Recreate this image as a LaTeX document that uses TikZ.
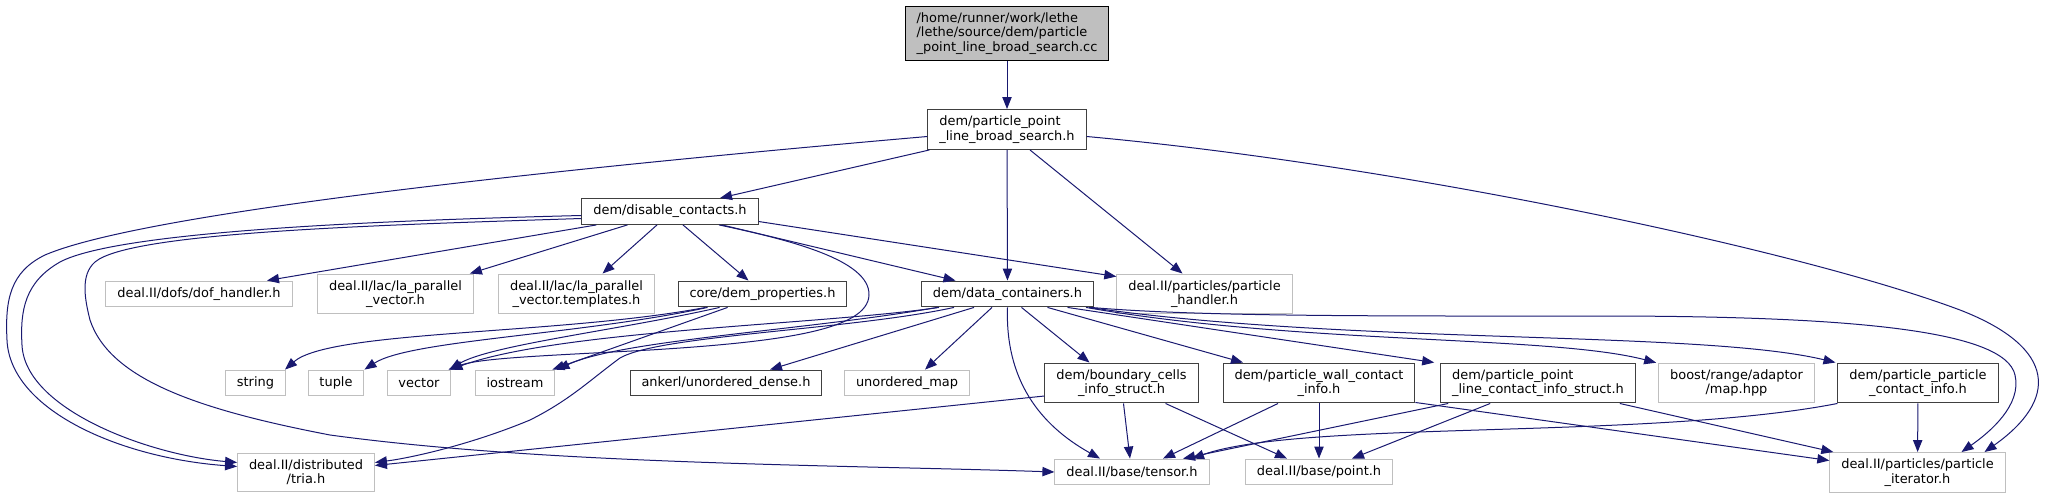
\documentclass[tikz,border=0pt]{standalone}
\usepackage{fontspec}
\setmainfont{DejaVu Sans}
\usetikzlibrary{arrows.meta,calc}
\definecolor{edgeblue}{HTML}{191970}
\definecolor{boxline}{HTML}{404040}
\definecolor{extline}{HTML}{BFBFBF}
\definecolor{rootfill}{HTML}{BFBFBF}

\begin{document}
\begin{tikzpicture}[
  x=0.75pt,
  y=-0.75pt,
  every node/.style={font=\fontsize{9.7}{10.7}\selectfont, inner xsep=8.6pt,
    inner ysep=4.8pt, minimum height=19.4pt, line width=0.75pt},
  srcfile/.style={draw=black, fill=rootfill, align=left},
  hdrfile/.style={draw=boxline, fill=white, align=center},
  extfile/.style={draw=extline, fill=white, align=center},
  incl/.style={edgeblue, line width=0.75pt, -{Triangle[length=9pt, width=7pt]}}
]
  % ---- frame: same size as the doxygen picture ---------------------------
  \useasboundingbox (0,0) rectangle (2046,499);

  % ---- files, row by row --------------------------------------------------
  \node[srcfile] (src) at (1007,33.5)
    {/home/runner/work/lethe\\/lethe/source/dem/particle\\\_point\_line\_broad\_search.cc};
  \node[hdrfile, align=left] (bsearch) at (1007,129.5)
    {dem/particle\_point\\\_line\_broad\_search.h};
  \node[hdrfile] (disable) at (670,211.5) {dem/disable\_contacts.h};

  \node[extfile] (dofh) at (199,294) {deal.II/dofs/dof\_handler.h};
  \node[extfile] (vech) at (395.5,294) {deal.II/lac/la\_parallel\\\_vector.h};
  \node[extfile] (vect) at (576.5,294)
    {deal.II/lac/la\_parallel\\\_vector.templates.h};
  \node[hdrfile] (demprop) at (762.5,294) {core/dem\_properties.h};
  \node[hdrfile] (datac) at (1007.5,294) {dem/data\_containers.h};
  \node[extfile] (phandler) at (1204.5,294)
    {deal.II/particles/particle\\\_handler.h};

  \node[extfile] (sstring) at (255.5,383) {string};
  \node[extfile] (stuple) at (336,383) {tuple};
  \node[extfile] (svector) at (419,383) {vector};
  \node[extfile] (siostream) at (515,383) {iostream};
  \node[hdrfile] (ankerl) at (726,383) {ankerl/unordered\_dense.h};
  \node[extfile] (umap) at (907,383) {unordered\_map};
  \node[hdrfile] (bcells) at (1121.5,383) {dem/boundary\_cells\\\_info\_struct.h};
  \node[hdrfile] (wallc) at (1319,383) {dem/particle\_wall\_contact\\\_info.h};
  \node[hdrfile, align=left] (plinec) at (1538,383)
    {dem/particle\_point\\\_line\_contact\_info\_struct.h};
  \node[extfile] (boostmap) at (1736.5,383) {boost/range/adaptor\\/map.hpp};
  \node[hdrfile] (ppc) at (1918,383) {dem/particle\_particle\\\_contact\_info.h};

  \node[extfile] (tria) at (306,472.5) {deal.II/distributed\\/tria.h};
  \node[extfile] (tensor) at (1132,472) {deal.II/base/tensor.h};
  \node[extfile] (point) at (1319,472) {deal.II/base/point.h};
  \node[extfile] (piter) at (1917.5,472.5)
    {deal.II/particles/particle\\\_iterator.h};

  % ---- the source file ----------------------------------------------------
  \draw[incl] (src) -- (bsearch);

  % ---- dem/particle_point_line_broad_search.h -----------------------------
  \draw[incl] ($(bsearch.south west)+(2,0)$) -- ($(disable.north)+(50,0)$);
  \draw[incl] (bsearch) -- (datac);
  \draw[incl] ($(bsearch.south)+(23,0)$) -- ($(phandler.north)+(-22,0)$);
  \draw[incl] ($(bsearch.west)+(0,7)$) .. controls (600,165) and (150,210) .. (45,255)
    .. controls (10,272) and (5,300) .. (7,340)
    .. controls (10,410) and (120,458) .. ($(tria.west)+(0,-6)$);
  \draw[incl] ($(bsearch.east)+(0,7)$) .. controls (1400,165) and (1800,250) .. (1960,310)
    .. controls (2058,348) and (2058,400) .. ($(piter.north)+(67,0)$);

  % ---- dem/disable_contacts.h ---------------------------------------------
  \draw[incl] ($(disable.west)+(0,4)$) .. controls (400,220) and (120,230) .. (60,262)
    .. controls (25,282) and (20,310) .. (22,345)
    .. controls (25,410) and (150,455) .. ($(tria.west)+(0,-10)$);
  \draw[incl] ($(disable.west)+(0,7)$) .. controls (380,225) and (130,232) .. (95,262)
    .. controls (80,275) and (85,300) .. (90,320)
    .. controls (110,380) and (200,410) .. (330,435)
    .. controls (550,465) and (850,465) .. (tensor.west);
  \draw[incl] ($(disable.south west)+(15,0)$) -- ($(dofh.north)+(68,0)$);
  \draw[incl] ($(disable.south west)+(46,0)$) -- ($(vech.north east)+(-4,0)$);
  \draw[incl] ($(disable.south)+(-13,0)$) -- ($(vect.north)+(26,0)$);
  \draw[incl] ($(disable.south)+(13,0)$) -- ($(demprop.north)+(-14,0)$);
  \draw[incl] ($(disable.south)+(49,0)$) .. controls (790,240) and (870,260) .. (869,295)
    .. controls (868,330) and (780,342) .. (650,350)
    .. controls (540,356) and (480,358) .. ($(svector.north east)+(-3,0)$);
  \draw[incl] ($(disable.south)+(52,0)$) -- ($(datac.north)+(-52,0)$);
  \draw[incl] ($(disable.east)+(0,10)$) -- ($(phandler.north west)+(0,3)$);

  % ---- core/dem_properties.h ----------------------------------------------
  \draw[incl] ($(demprop.south west)+(28,0)$) .. controls (560,335) and (330,330)
    .. ($(sstring.north east)+(-1,0)$);
  \draw[incl] ($(demprop.south west)+(30,0)$) .. controls (580,335) and (410,340)
    .. (stuple.north east);
  \draw[incl] ($(demprop.south west)+(42,0)$) .. controls (620,330) and (490,345)
    .. ($(svector.north east)+(-2,0)$);
  \draw[incl] ($(demprop.south west)+(50,0)$) -- ($(siostream.north east)+(-3,0)$);

  % ---- dem/data_containers.h ----------------------------------------------
  \draw[incl] ($(datac.south west)+(18,0)$) .. controls (820,325) and (560,330)
    .. ($(svector.north east)+(-1,0)$);
  \draw[incl] ($(datac.south west)+(16,0)$) .. controls (810,330) and (620,340)
    .. ($(siostream.north east)+(2,0)$);
  \draw[incl] ($(datac.south west)+(33,0)$) .. controls (850,330) and (660,335) .. (620,358)
    .. controls (590,380) and (570,400) .. (530,420)
    .. controls (470,445) and (410,458) .. ($(tria.east)+(0,-10)$);
  \draw[incl] ($(datac.south west)+(53,0)$) -- ($(ankerl.north)+(44,0)$);
  \draw[incl] ($(datac.south west)+(71,0)$) -- ($(umap.north)+(18,0)$);
  \draw[incl] ($(datac.south)+(14,0)$) -- ($(bcells.north)+(-32,0)$);
  \draw[incl] ($(datac.south)+(40,0)$) -- ($(wallc.north)+(-76,0)$);
  \draw[incl] ($(datac.south)+(60,0)$) -- ($(plinec.north west)+(-6,0)$);
  \draw[incl] ($(datac.south east)+(-8,0)$) .. controls (1300,345) and (1550,335)
    .. ($(boostmap.north west)+(-2,0)$);
  \draw[incl] ($(datac.south east)+(-5,0)$) .. controls (1350,345) and (1700,330)
    .. ($(ppc.north west)+(-2,0)$);
  \draw[incl] ($(datac.south east)+(-3,0)$) .. controls (1200,317) and (1400,316) .. (1600,316)
    .. controls (1850,316) and (2005,330) .. (2015,375)
    .. controls (2022,405) and (1990,432) .. ($(piter.north)+(44,0)$);
  \draw[incl] (datac.south) .. controls (1005,380) and (1040,425)
    .. ($(tensor.north)+(-32,0)$);

  % ---- dem/boundary_cells_info_struct.h -----------------------------------
  \draw[incl] ($(bcells.west)+(0,13)$) -- ($(tria.east)+(0,-7)$);
  \draw[incl] ($(bcells.south)+(2,0)$) -- ($(tensor.north)+(-2,0)$);
  \draw[incl] ($(bcells.south)+(44,0)$) -- ($(point.north)+(-32,0)$);

  % ---- dem/particle_wall_contact_info.h -----------------------------------
  \draw[incl] ($(wallc.south)+(-41,0)$) -- ($(tensor.north)+(31,0)$);
  \draw[incl] (wallc) -- (point);
  \draw[incl] ($(wallc.south east)+(0,-1)$) -- ($(piter.west)+(0,-12)$);

  % ---- dem/particle_point_line_contact_info_struct.h ----------------------
  \draw[incl] ($(plinec.south west)+(8,0)$) -- ($(tensor.north)+(51,0)$);
  \draw[incl] ($(plinec.south west)+(50,0)$) -- ($(point.north)+(33,0)$);
  \draw[incl] ($(plinec.south east)+(-16,0)$) -- ($(piter.north west)+(4,0)$);

  % ---- dem/particle_particle_contact_info.h -------------------------------
  \draw[incl] (ppc.south west) .. controls (1650,440) and (1300,420)
    .. ($(tensor.north)+(60,0)$);
  \draw[incl] (ppc) -- (piter);

\end{tikzpicture}
\end{document}
